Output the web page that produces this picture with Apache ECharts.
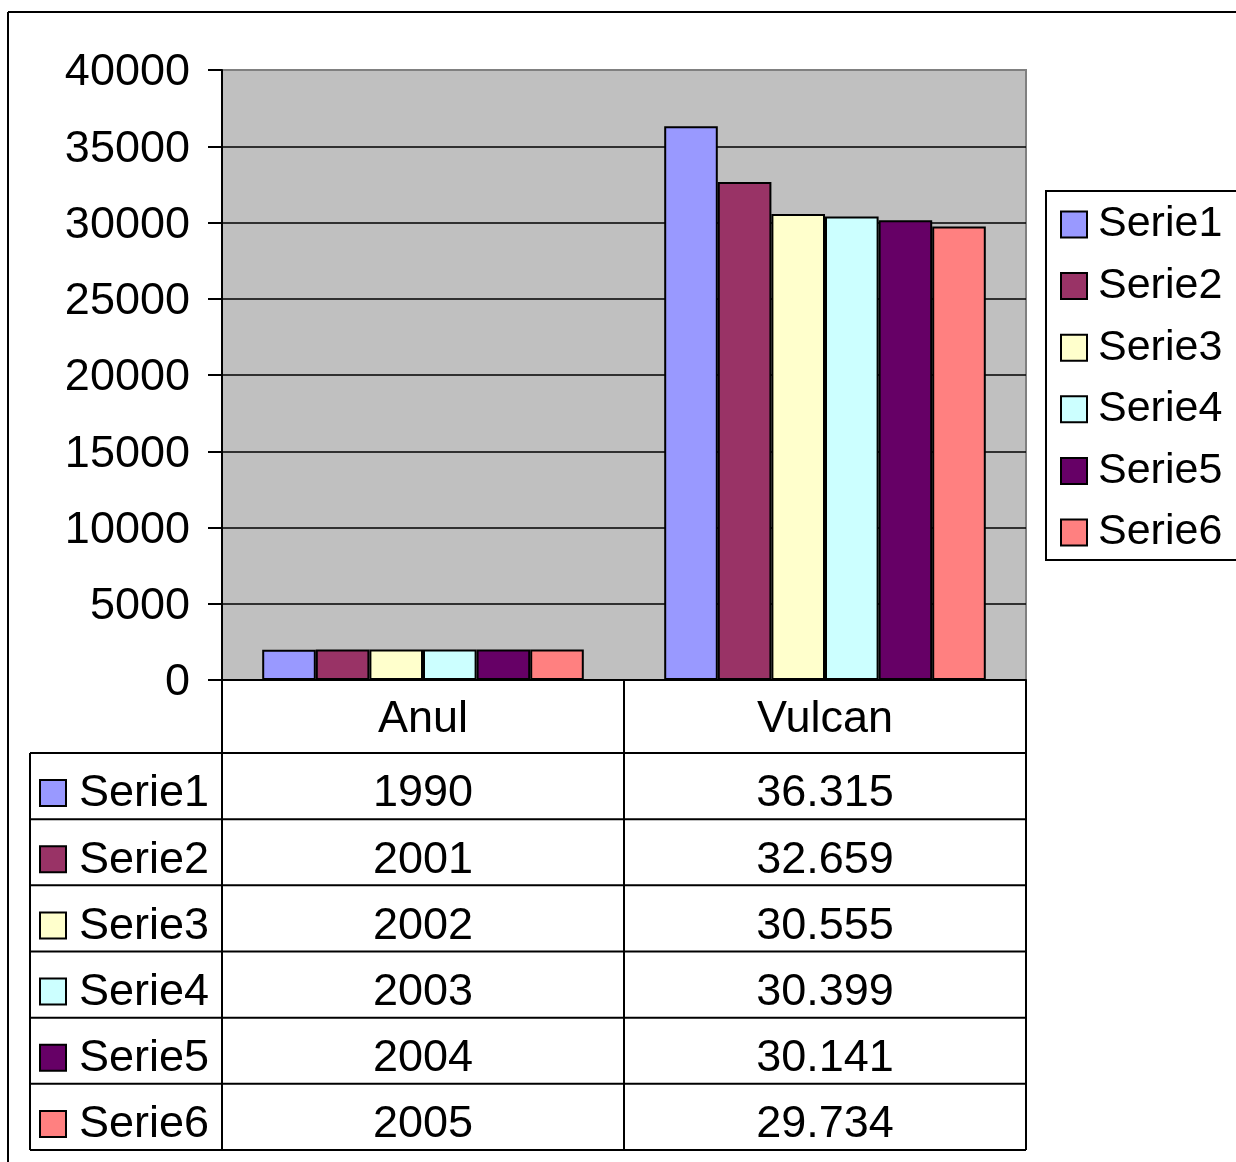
<!DOCTYPE html>
<html><head><meta charset="utf-8">
<script src="https://cdn.jsdelivr.net/npm/echarts@6/dist/echarts.min.js"></script>
<style>html,body{margin:0;padding:0;background:#fff}#c{width:1236px;height:1162px}</style>
</head><body><div id="c"></div>
<script>
const categories = ['Anul', 'Vulcan'];
const seriesNames = ['Serie1', 'Serie2', 'Serie3', 'Serie4', 'Serie5', 'Serie6'];
const anulValues = [1990, 2001, 2002, 2003, 2004, 2005];
const vulcanValues = [36315, 32659, 30555, 30399, 30141, 29734];
const colors = ['#9999FF', '#993366', '#FFFFCC', '#CCFFFF', '#660066', '#FF8080'];
const yMin = 0, yMax = 40000, yInterval = 5000;

const FONT = "'Liberation Sans', Arial, sans-serif";
const G = { left: 222, top: 70, width: 804, height: 610 };
const tableBottom = 1150;
const headerBottom = 753;
const keyColLeft = 30;

function fmt(v) { return String(v).replace(/\B(?=(\d{3})+(?!\d))/g, '.'); }

const chart = echarts.init(document.getElementById('c'), null, { renderer: 'canvas' });

const graphics = [];
const gx0 = G.left, gx1 = G.left + G.width, gy1 = G.top + G.height;
const colW = G.width / categories.length;
const rowH = (tableBottom - headerBottom) / seriesNames.length;
function line(x1, y1, x2, y2, w) {
  graphics.push({ type: 'line', shape: { x1, y1, x2, y2 }, style: { stroke: '#000', lineWidth: w || 2 }, z: 10 });
}
// outer chart border
line(8, 12, 1236, 12, 2);
line(8, 12, 8, 1162, 2);
// table verticals
line(keyColLeft, headerBottom, keyColLeft, tableBottom);
for (let c = 0; c <= categories.length; c++) {
  const x = gx0 + c * colW;
  line(x, gy1, x, tableBottom);
}
// table horizontals
for (let r = 0; r <= seriesNames.length; r++) {
  const y = headerBottom + r * rowH;
  line(keyColLeft, y, gx1, y);
}
// rows
const valueCols = [anulValues.map(v => String(v)), vulcanValues.map(fmt)];
seriesNames.forEach((name, i) => {
  const cy = headerBottom + i * rowH + rowH / 2 + 8;
  graphics.push({ type: 'rect', shape: { x: 40, y: cy - 14, width: 26, height: 26 }, style: { fill: colors[i], stroke: '#000', lineWidth: 2 }, z: 10 });
  graphics.push({ type: 'text', x: 79, y: cy, style: { text: name, fontSize: 45, fontFamily: FONT, fill: '#000', textAlign: 'left', textVerticalAlign: 'middle' }, z: 10 });
  valueCols.forEach((col, c) => {
    graphics.push({ type: 'text', x: gx0 + c * colW + colW / 2, y: cy, style: { text: col[i], fontSize: 45, fontFamily: FONT, fill: '#000', textAlign: 'center', textVerticalAlign: 'middle' }, z: 10 });
  });
});

const series = seriesNames.map((name, i) => ({
  name, type: 'bar',
  data: [anulValues[i], vulcanValues[i]],
  barGap: '0%', barCategoryGap: '20%',
  itemStyle: { color: colors[i], borderColor: '#000', borderWidth: 2 }
}));

chart.setOption({
  animation: false,
  backgroundColor: '#fff',
  textStyle: { fontFamily: FONT },
  grid: { left: G.left, top: G.top, width: G.width, height: G.height, show: true, backgroundColor: '#C0C0C0', borderColor: '#808080', borderWidth: 2 },
  legend: {
    orient: 'vertical', left: 1046, top: 191,
    itemWidth: 26, itemHeight: 26, itemGap: 18.6,
    icon: 'rect',
    borderColor: '#000', borderWidth: 2,
    padding: [12, 30, 6, 14],
    textStyle: { fontSize: 43, fontFamily: FONT, color: '#000', padding: [0, 0, 0, 6] },
    data: seriesNames
  },
  xAxis: {
    type: 'category', data: categories,
    axisLine: { show: true, lineStyle: { color: '#000', width: 2 } },
    axisTick: { show: false },
    axisLabel: { fontSize: 45, fontFamily: FONT, color: '#000', margin: 17, lineHeight: 45 },
    splitLine: { show: false }
  },
  yAxis: {
    type: 'value', min: yMin, max: yMax, interval: yInterval,
    axisLine: { show: true, lineStyle: { color: '#000', width: 2 } },
    axisTick: { show: true, length: 14, lineStyle: { color: '#000', width: 2 } },
    axisLabel: {
      margin: 32, formatter: v => '{a|' + v + '}',
      rich: { a: { fontSize: 45, fontFamily: FONT, color: '#000', padding: [6, 0, 0, 0] } }
    },
    splitLine: { show: true, showMaxLine: false, lineStyle: { color: '#000', width: 1.5 } }
  },
  series,
  graphic: graphics
});
</script>
</body></html>
